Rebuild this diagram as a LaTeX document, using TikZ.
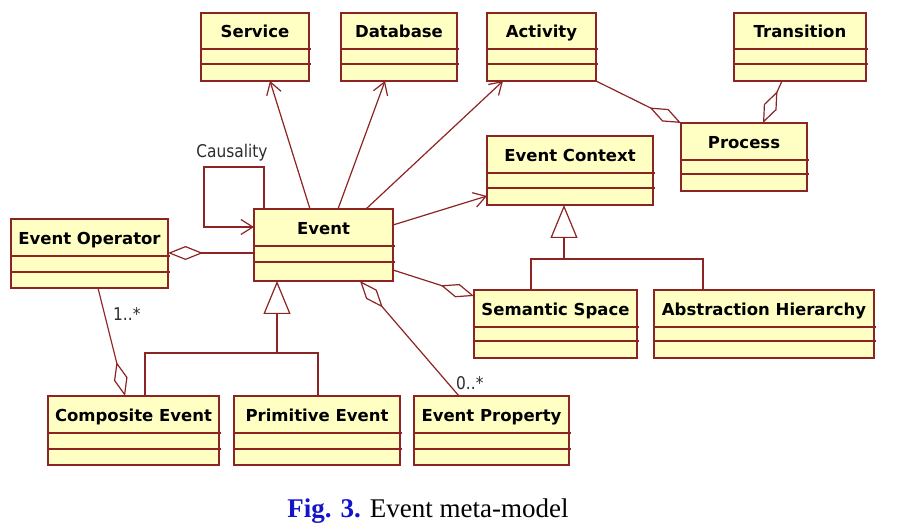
\documentclass[tikz,border=0pt]{standalone}
\usepackage{fontspec}
\setmainfont{Liberation Serif}
\newfontfamily\boxfont{DejaVu Sans}
\newfontfamily\labfont[FakeStretch=0.88]{DejaVu Sans}
\usetikzlibrary{arrows.meta,calc}
\definecolor{umlfill}{RGB}{255,255,196}
\definecolor{umlline}{RGB}{140,36,36}
\definecolor{figblue}{RGB}{20,20,205}
\definecolor{labgray}{RGB}{45,45,45}
\tikzset{
 cls/.style={draw=umlline, fill=umlfill, line width=1.5pt, inner sep=0pt, outer sep=0pt, rectangle},
 sep/.style={draw=umlline, line width=1.2pt},
 title/.style={font=\boxfont\bfseries\fontsize{16.5}{18}\selectfont, inner sep=0pt, anchor=base},
 assoc/.style={draw=umlline, line width=1.2pt},
 nav/.style={assoc, -{Straight Barb[length=12pt,width=15pt]}},
 agg/.style={assoc, {Diamond[length=35pt,width=14pt,fill=white]}-},
 gen/.style={assoc, -{Triangle[length=33pt,width=27pt,fill=white]}},
 mult/.style={font=\labfont\fontsize{17.5}{20}\selectfont, text=labgray, inner sep=0pt},
}
\newcommand\umlcls[8]{%
 \node[cls, anchor=north west, minimum width={(#4-#2)*1pt}, minimum height={(#5-#3)*1pt}] (#1) at (#2,#3) {};
 \draw[sep] (#2,#6) -- (#4+2,#6) (#2,#7) -- (#4+2,#7);
 \node[title] (#1-name) at ({(#2+#4)/2},{#6-11.5}) {#8};
}
\begin{document}
\begin{tikzpicture}[x=1pt,y=-1pt]
\useasboundingbox (0,0) rectangle (898,529);
\fill[white] (0,0) rectangle (898,529);

\umlcls{svc}{201}{13}{309}{81}{49}{64}{Service}
\umlcls{db}{341}{13}{457}{81}{49}{64}{Database}
\umlcls{act}{487}{13}{596}{81}{49}{64}{Activity}
\umlcls{tr}{734}{13}{866}{81}{49}{64}{Transition}
\umlcls{proc}{681}{123}{807}{191}{160}{174}{Process}
\umlcls{ctx}{487}{136}{653}{205}{173}{188}{Event Context}
\umlcls{ev}{254}{209}{393}{281}{246}{262}{Event}
\umlcls{eo}{11}{219}{168}{288}{256}{272}{Event Operator}
\umlcls{ss}{474}{290}{637}{358}{327}{341}{Semantic Space}
\umlcls{ah}{654}{290}{874}{358}{327}{341}{Abstraction Hierarchy}
\umlcls{ce}{48}{396}{219}{465}{433}{449}{Composite Event}
\umlcls{pe}{234}{396}{400}{465}{433}{449}{Primitive Event}
\umlcls{ep}{414}{396}{569}{465}{433}{449}{Event Property}

% navigable associations
\draw[nav] ($(ev.north west)+(56,0)$) -- ($(svc.south west)+(69,0)$);
\draw[nav] ($(ev.north west)+(84,0)$) -- ($(db.south west)+(44,0)$);
\draw[nav] ($(ev.north west)+(112,0)$) -- ($(act.south west)+(16,0)$);
\draw[nav] ($(ev.north east)+(0,16)$) -- ($(ctx.north west)+(0,60)$);
\draw[nav] ($(ev.north west)+(10,0)$) -- ++(0,-42) -- ++(-60,0) -- ++(0,60) -- ($(ev.north west)+(0,18)$);
\node[mult, anchor=base] (caus) at (232,158) {Causality};

% aggregations
\draw[agg] ($(ss.north west)+(0,6)$) -- ($(ev.north east)+(0,61)$);
\draw[agg] ($(ev.south west)+(106,0)$) -- ($(ep.north west)+(45,0)$);
\draw[agg] ($(eo.north east)+(0,34)$) -- ($(ev.north west)+(0,44)$);
\draw[agg] ($(ce.north west)+(77,0)$) -- ($(eo.south west)+(87,0)$);
\draw[agg] (proc.north west) -- (act.south east);
\draw[agg] ($(proc.north west)+(82,0)$) -- ($(tr.south west)+(48,0)$);
\node[mult, anchor=base west] (m1) at (113,321) {1..*};
\node[mult, anchor=base west] (m2) at (456,390) {0..*};

% generalizations
\coordinate (gj1) at (564,259);
\draw[assoc] ($(ss.north west)+(57,0)$) |- (gj1) -| ($(ah.north west)+(49,0)$);
\draw[gen] (gj1) -- (gj1 |- ctx.south);
\coordinate (gj2) at (277,353);
\draw[assoc] ($(ce.north west)+(97,0)$) |- (gj2) -| ($(pe.north west)+(84,0)$);
\draw[gen] (gj2) -- (gj2 |- ev.south);

% caption
\node[anchor=base, inner sep=0pt, font=\fontsize{27}{30}\selectfont] (cap) at (428,518) {\textcolor{figblue}{\bfseries Fig. 3.} Event meta-model};
\end{tikzpicture}
\end{document}
